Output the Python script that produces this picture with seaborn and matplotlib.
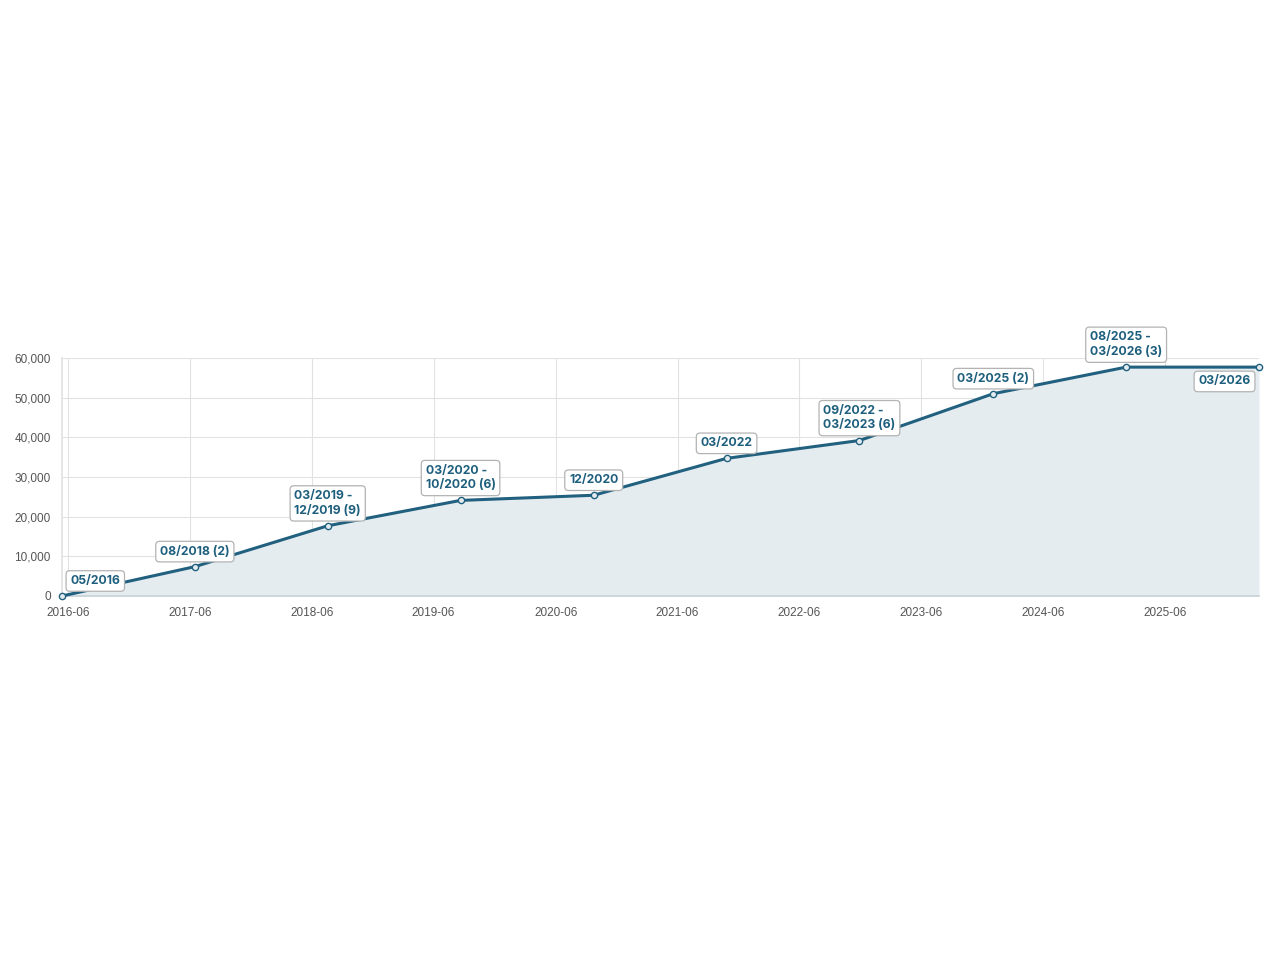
import pandas as pd
import matplotlib
matplotlib.use("Agg")
import matplotlib.pyplot as plt
import matplotlib.dates as mdates
import matplotlib.ticker as mticker
import seaborn as sns

# data
dates = ["2016-05-14", "2017-06-16", "2018-07-19", "2019-08-21", "2020-09-23",
         "2021-10-26", "2022-11-28", "2024-01-03", "2025-02-04", "2026-03-09"]
totals = [0, 7400, 17700, 24100, 25400, 34700, 39200, 51000, 57700, 57700]
labels = ["05/2016", "08/2018 (2)", "03/2019 -\n12/2019 (9)", "03/2020 -\n10/2020 (6)",
          "12/2020", "03/2022", "09/2022 -\n03/2023 (6)", "03/2025 (2)",
          "08/2025 -\n03/2026 (3)", "03/2026"]
tick_dates = ["2016-06", "2017-06", "2018-06", "2019-06", "2020-06",
              "2021-06", "2022-06", "2023-06", "2024-06", "2025-06"]

df = pd.DataFrame({"date": pd.to_datetime(dates), "total": totals})

line_col = "#21617f"
fill_col = "#e4ecf0"
grid_col = "#e2e2e2"

sns.set_theme(style="white")
plt.rcParams["font.family"] = ["Liberation Sans", "DejaVu Sans"]

fig = plt.figure(figsize=(12.8, 9.6), dpi=100)
ax = fig.add_axes([62 / 1280, 1 - 596 / 960, (1259 - 62) / 1280, (596 - 358) / 960])

ax.fill_between(df["date"], df["total"], 0, color=fill_col, zorder=1, linewidth=0)
sns.lineplot(data=df, x="date", y="total", ax=ax, color=line_col, linewidth=2.2,
             marker="o", markersize=4.5, markerfacecolor=fill_col,
             markeredgecolor=line_col, markeredgewidth=1.0, zorder=3, clip_on=False)

ax.set_xlim(df["date"].iloc[0], df["date"].iloc[-1])
ax.set_ylim(0, 60000)
ax.set_xticks(pd.to_datetime(tick_dates))
ax.xaxis.set_major_formatter(mdates.DateFormatter("%Y-%m"))
ax.yaxis.set_major_locator(mticker.MultipleLocator(10000))
ax.yaxis.set_major_formatter(mticker.FuncFormatter(lambda v, p: f"{int(v):,}"))
ax.set_xlabel("")
ax.set_ylabel("")

ax.grid(True, color=grid_col, linewidth=0.8, zorder=0)
ax.set_axisbelow(True)
ax.tick_params(axis="both", length=5, width=0.8, color=grid_col,
               labelsize=8.5, labelcolor="#555555", pad=3)
for side in ["top", "right"]:
    ax.spines[side].set_visible(False)
ax.spines["left"].set_color(grid_col)
ax.spines["bottom"].set_color("#c9d1d8")
ax.spines["bottom"].set_linewidth(1.2)

box = dict(boxstyle="round,pad=0.35,rounding_size=0.3", facecolor="white",
           edgecolor="#b3b3b3", linewidth=0.9)
n = len(labels)
for i, (d, v, lab) in enumerate(zip(df["date"], df["total"], labels)):
    if i == 0:
        ha, va, off = "left", "bottom", (6, 6.5)
    elif i == n - 1:
        ha, va, off = "right", "top", (-6, -6)
    else:
        ha, va, off = "center", "bottom", (0, 6.5)
    ax.annotate(lab, (d, v), xytext=off, textcoords="offset points",
                ha=ha, va=va, multialignment="left", fontsize=8.8,
                fontweight="bold", color="#1e5f7e", family=["Inter", "DejaVu Sans"],
                linespacing=1.3, bbox=box, zorder=5, annotation_clip=False)

fig.savefig("out.png", dpi=100)
